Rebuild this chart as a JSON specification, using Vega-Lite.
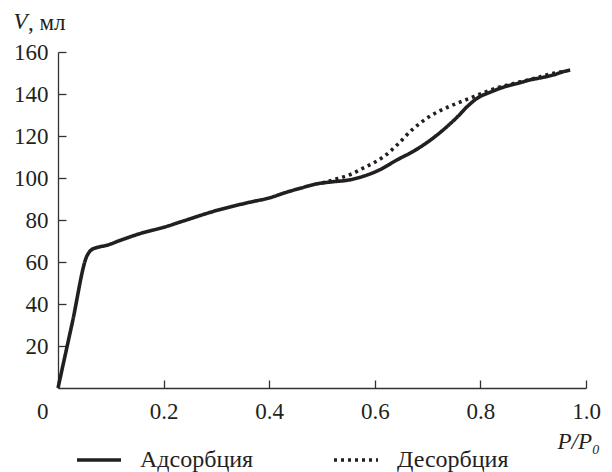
{
  "$schema": "https://vega.github.io/schema/vega-lite/v6.json",
  "autosize": "none",
  "width": 528,
  "height": 336,
  "padding": {"left": 58, "top": 52, "right": 26, "bottom": 84},
  "background": "white",
  "title": {"text": ", мл", "anchor": "start", "frame": "group", "dx": -30, "dy": 43, "font": "Liberation Serif", "fontSize": 23, "fontWeight": "normal", "color": "#231f20", "baseline": "alphabetic", "offset": 0},
  "config": {"view": {"stroke": null}, "font": "Liberation Serif"},
  "data": {"values": [
    {"s": "Адсорбция", "x": 0, "y": 0},
    {"s": "Адсорбция", "x": 0.027, "y": 31},
    {"s": "Адсорбция", "x": 0.055, "y": 63},
    {"s": "Адсорбция", "x": 0.062, "y": 65.5},
    {"s": "Адсорбция", "x": 0.075, "y": 67},
    {"s": "Адсорбция", "x": 0.09, "y": 67.8},
    {"s": "Адсорбция", "x": 0.12, "y": 70.5},
    {"s": "Адсорбция", "x": 0.155, "y": 73.5},
    {"s": "Адсорбция", "x": 0.2, "y": 76.5},
    {"s": "Адсорбция", "x": 0.237, "y": 79.5},
    {"s": "Адсорбция", "x": 0.3, "y": 84.5},
    {"s": "Адсорбция", "x": 0.364, "y": 88.5},
    {"s": "Адсорбция", "x": 0.4, "y": 90.5},
    {"s": "Адсорбция", "x": 0.43, "y": 93},
    {"s": "Адсорбция", "x": 0.46, "y": 95.2},
    {"s": "Адсорбция", "x": 0.49, "y": 97.2},
    {"s": "Адсорбция", "x": 0.52, "y": 98.2},
    {"s": "Адсорбция", "x": 0.55, "y": 99},
    {"s": "Адсорбция", "x": 0.578, "y": 100.8},
    {"s": "Адсорбция", "x": 0.61, "y": 104},
    {"s": "Адсорбция", "x": 0.642, "y": 108.6},
    {"s": "Адсорбция", "x": 0.675, "y": 113},
    {"s": "Адсорбция", "x": 0.705, "y": 118},
    {"s": "Адсорбция", "x": 0.73, "y": 123},
    {"s": "Адсорбция", "x": 0.756, "y": 129},
    {"s": "Адсорбция", "x": 0.775, "y": 134},
    {"s": "Адсорбция", "x": 0.794, "y": 138},
    {"s": "Адсорбция", "x": 0.82, "y": 141},
    {"s": "Адсорбция", "x": 0.843, "y": 143.2},
    {"s": "Адсорбция", "x": 0.87, "y": 145},
    {"s": "Адсорбция", "x": 0.894, "y": 146.7},
    {"s": "Адсорбция", "x": 0.92, "y": 148},
    {"s": "Адсорбция", "x": 0.94, "y": 149.2},
    {"s": "Адсорбция", "x": 0.955, "y": 150.5},
    {"s": "Адсорбция", "x": 0.97, "y": 151.4},
    {"s": "Десорбция", "x": 0.5, "y": 97.6},
    {"s": "Десорбция", "x": 0.528, "y": 99.6},
    {"s": "Десорбция", "x": 0.555, "y": 101.8},
    {"s": "Десорбция", "x": 0.578, "y": 104.7},
    {"s": "Десорбция", "x": 0.6, "y": 107.5},
    {"s": "Десорбция", "x": 0.616, "y": 110},
    {"s": "Десорбция", "x": 0.642, "y": 115.7},
    {"s": "Десорбция", "x": 0.673, "y": 123.5},
    {"s": "Десорбция", "x": 0.705, "y": 129.5},
    {"s": "Десорбция", "x": 0.736, "y": 133.5},
    {"s": "Десорбция", "x": 0.76, "y": 136},
    {"s": "Десорбция", "x": 0.78, "y": 138},
    {"s": "Десорбция", "x": 0.805, "y": 140.5},
    {"s": "Десорбция", "x": 0.831, "y": 142.9},
    {"s": "Десорбция", "x": 0.86, "y": 144.8},
    {"s": "Десорбция", "x": 0.894, "y": 146.9},
    {"s": "Десорбция", "x": 0.915, "y": 148.3},
    {"s": "Десорбция", "x": 0.932, "y": 149.5},
    {"s": "Десорбция", "x": 0.956, "y": 150.7}
  ]},
  "mark": {"type": "line", "interpolate": "monotone", "color": "#231f20", "strokeWidth": 3.6, "clip": false},
  "encoding": {
    "x": {"field": "x", "type": "quantitative", "scale": {"domain": [0, 1], "nice": false, "zero": false},
      "axis": {"values": [0, 0.2, 0.4, 0.6, 0.8, 1.0], "grid": false, "domainColor": "#333", "domainWidth": 1.3,
        "tickColor": "#333", "tickWidth": 1.3, "tickSize": -8, "labelPadding": 20, "labelBaseline": "top",
        "labelExpr": "datum.value == 0 ? '0' : format(datum.value, '.1f')",
        "labelAlign": {"condition": {"test": "datum.value == 0", "value": "right"}, "value": "center"},
        "labelOffset": {"condition": {"test": "datum.value == 0", "value": -10}, "value": 0},
        "labelFont": "Liberation Serif", "labelFontSize": 23, "labelColor": "#231f20", "labelFlush": false, "labelOverlap": false,
        "title": "P/P₀", "titleFont": "Liberation Serif", "titleFontSize": 23, "titleFontStyle": "italic", "titleFontWeight": "normal",
        "titleColor": "#231f20", "titleAlign": "left", "titleBaseline": "alphabetic", "titleX": 499, "titleY": 60, "titleAnchor": null}},
    "y": {"field": "y", "type": "quantitative", "scale": {"domain": [0, 160], "nice": false},
      "axis": {"values": [20, 40, 60, 80, 100, 120, 140, 160], "grid": false, "domainColor": "#333", "domainWidth": 1.3,
        "tickColor": "#333", "tickWidth": 1.3, "tickSize": -8, "labelPadding": 18, "labelBaseline": "middle", "labelAlign": "right",
        "labelFont": "Liberation Serif", "labelFontSize": 23, "labelColor": "#231f20",
        "title": "V", "titleFont": "Liberation Serif", "titleFontSize": 23, "titleFontStyle": "italic", "titleFontWeight": "normal",
        "titleColor": "#231f20", "titleAngle": 0, "titleAlign": "left", "titleBaseline": "alphabetic", "titleX": -45, "titleY": -24}},
    "strokeDash": {"field": "s", "type": "nominal",
      "scale": {"domain": ["Адсорбция", "Десорбция"], "range": [[1, 0], [3, 4]]},
      "legend": {"title": null, "orient": "none", "legendX": 17, "legendY": 384, "direction": "horizontal", "columns": 2,
        "symbolType": "stroke", "symbolSize": 1936, "symbolStrokeWidth": 3.6, "symbolStrokeColor": "#231f20", "symbolOffset": 0,
        "labelFont": "Liberation Serif", "labelFontSize": 24, "labelColor": "#231f20", "labelOffset": 17,
        "columnPadding": 72, "padding": 0}}
  }
}
